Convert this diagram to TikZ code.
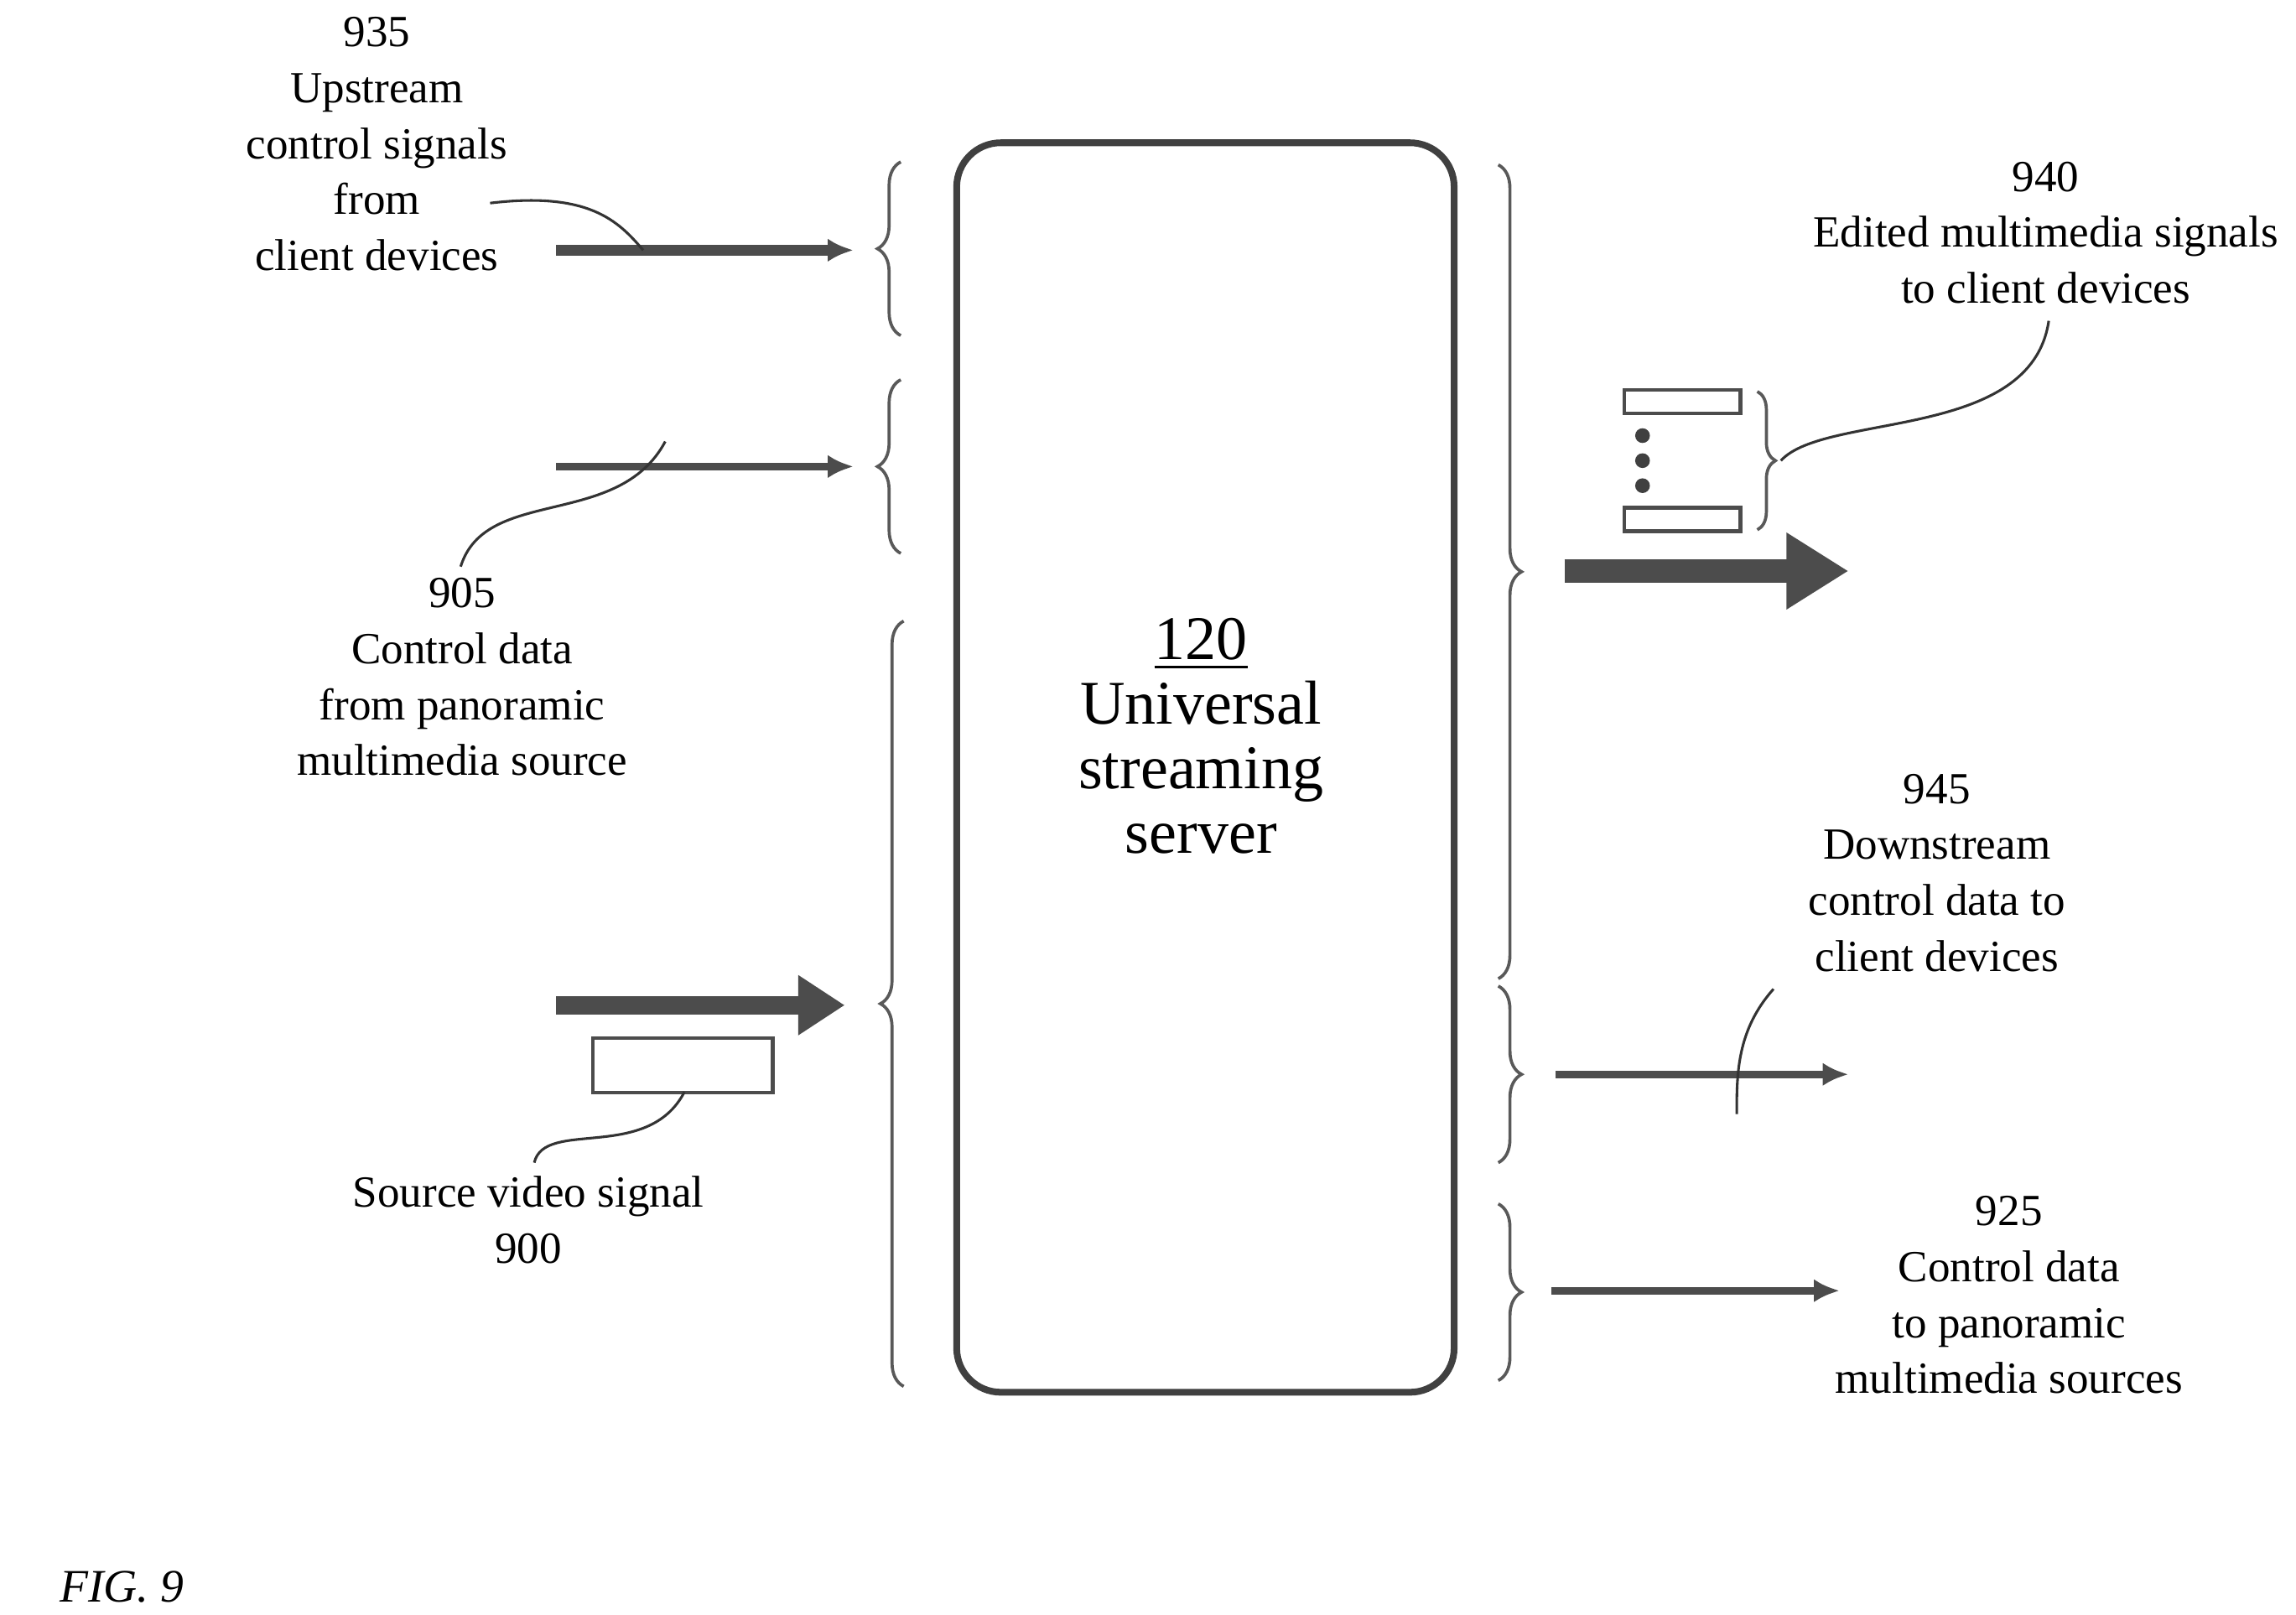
\documentclass[tikz,border=0pt]{standalone}
\usepackage{fontspec}
\setmainfont{Liberation Serif}
\usetikzlibrary{positioning}
\usetikzlibrary{calc}
\usetikzlibrary{arrows.meta}
\usetikzlibrary{decorations.pathreplacing}

\tikzset{
  lbl/.style={align=center, font=\fontsize{8.6}{10.8}\selectfont, inner sep=0pt},
  brc/.style={decorate, decoration={brace, amplitude=4.5pt}, line width=0.6pt, gray!70!black},
  sig/.style={line width=#1, gray!60!black, -{Latex[length=5pt, width=4.5pt]}},
  lead/.style={line width=0.5pt, black!80},
  blk/.style={draw, line width=0.7pt, gray!60!black, fill=white, minimum width=0.79cm, minimum height=0.16cm, inner sep=0pt}
}

\begin{document}
\begin{tikzpicture}[x={(0.01cm,0)}, y={(0,-0.01cm)}]
\useasboundingbox (0,0) rectangle (1560,1097);
% server
\draw[line width=1.3pt, gray!50!black, rounded corners=0.3cm] (650,97) rectangle (988,946);
\node[lbl, font=\fontsize{12}{12.5}\selectfont] (srv) at (816,500) {\underline{120}\\Universal\\streaming\\server};
% braces left
\draw[brc] (612,228) -- (612,110);
\draw[brc] (612,376) -- (612,258);
\draw[brc] (614,942) -- (614,422);
% braces right
\draw[brc] (1018,112) -- (1018,665);
\draw[brc] (1018,670) -- (1018,790);
\draw[brc] (1018,818) -- (1018,938);
\draw[brc, decoration={amplitude=3.5pt}] (1194,266) -- (1194,360);
% signal ends
\coordinate (a1) at (378,170); \coordinate (b1) at (580,170);
\coordinate (a2) at (378,317); \coordinate (b2) at (580,317);
\coordinate (a3) at (378,683); \coordinate (b3) at (574,683);
\coordinate (a4) at (1063,388); \coordinate (b4) at (1256,388);
\coordinate (a5) at (1057,730); \coordinate (b5) at (1256,730);
\coordinate (a6) at (1054,877); \coordinate (b6) at (1250,877);
\draw[sig=2pt] (a1) -- (b1);
\draw[sig=1.4pt] (a2) -- (b2);
\draw[line width=3.6pt, gray!60!black, -{Triangle[length=9pt, width=11pt]}] (a3) -- (b3);
\draw[line width=4.5pt, gray!60!black, -{Triangle[length=12pt, width=14pt]}] (a4) -- (b4);
\draw[sig=1.4pt] (a5) -- (b5);
\draw[sig=1.4pt] (a6) -- (b6);
% blocks
\node[blk, minimum width=1.22cm, minimum height=0.37cm] (vid) at (464,724) {};
\node[blk] (e1) at (1143,273) {};
\node[blk] (e2) at (1143,353) {};
\foreach \yy [count=\i] in {296,313,330}
  \node[circle, fill=gray!50!black, inner sep=0pt, minimum size=0.1cm] (d\i) at (1116,\yy) {};
% labels
\node[lbl] (t935) at (256,98) {935\\Upstream\\control signals\\from\\client devices};
\node[lbl] (t905) at (314,460) {905\\Control data\\from panoramic\\multimedia source};
\node[lbl] (t900) at (359,829) {Source video signal\\900};
\node[lbl] (t940) at (1390,158) {940\\Edited multimedia signals\\to client devices};
\node[lbl] (t945) at (1316,593) {945\\Downstream\\control data to\\client devices};
\node[lbl] (t925) at (1365,880) {925\\Control data\\to panoramic\\multimedia sources};
\node[lbl, font=\fontsize{9}{11}\selectfont\itshape, anchor=west] (fig) at (40,1078) {FIG. 9};
% leaders
\draw[lead] (333,138) .. controls (400,130) and (420,150) .. (437,170);
\draw[lead] (452,300) .. controls (420,360) and (330,330) .. (313,385);
\draw[lead] (465,742) .. controls (440,790) and (370,760) .. (363,790);
\draw[lead] (1392,218) .. controls (1380,300) and (1240,280) .. (1210,313);
\draw[lead] (1205,672) .. controls (1180,700) and (1180,730) .. (1180,757);
\end{tikzpicture}
\end{document}
